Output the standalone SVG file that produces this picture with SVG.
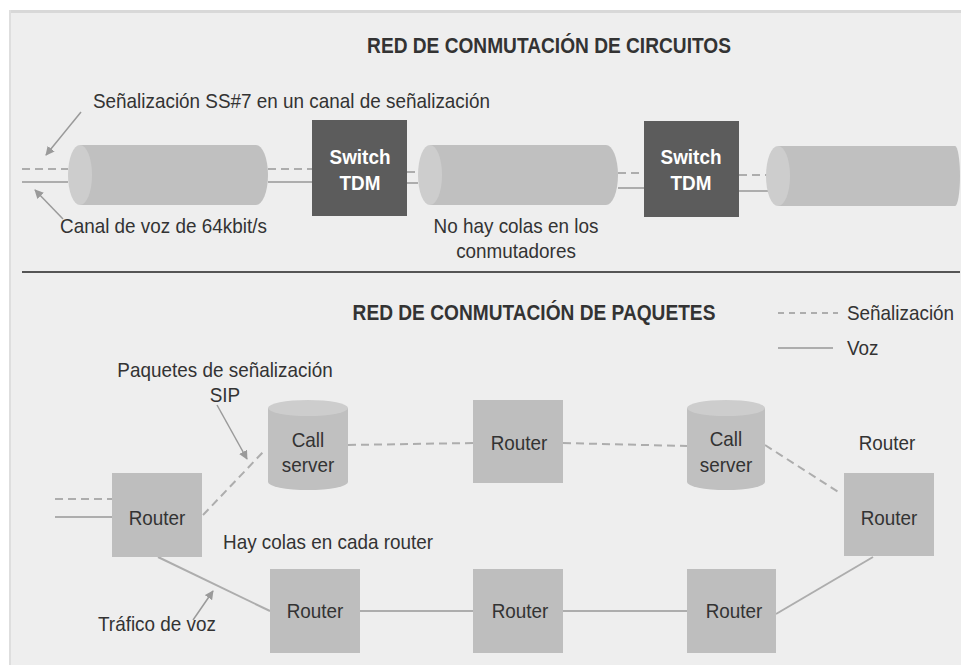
<svg xmlns="http://www.w3.org/2000/svg" width="961" height="665" viewBox="0 0 961 665">
<defs>
<style>
text{font-family:"Liberation Sans",Arial,sans-serif;font-size:21px;fill:#333}
.title{font-weight:bold;font-size:22px}
.sw{font-weight:bold;fill:#fff}
.mid{text-anchor:middle}
.dash{stroke:#adadad;stroke-width:2;stroke-dasharray:8,5;fill:none}
.solid{stroke:#adadad;stroke-width:2;fill:none}
.ptr{stroke:#9a9a9a;stroke-width:1.5;fill:none}
.box{fill:#bebebe}
.swbox{fill:#5c5c5c}
.cylbody{fill:#c0c0c0}
.cylface{fill:#cdcdcd}
</style>
<marker id="ah" viewBox="0 0 10 10" refX="9" refY="5" markerWidth="9" markerHeight="9" markerUnits="userSpaceOnUse" orient="auto"><path d="M0,0 L10,5 L0,10 z" fill="#9a9a9a"/></marker>
</defs>
<rect x="0" y="0" width="961" height="665" fill="#ffffff"/>
<rect x="9" y="10" width="952" height="655" fill="#eeeeee"/>
<rect x="9" y="10" width="952" height="3" fill="#d8d8d8"/>
<rect x="9" y="10" width="2" height="655" fill="#dedede"/>

<g id="connectors">
<line class="dash" x1="22" y1="169" x2="68" y2="169"/>
<line class="solid" x1="22" y1="182" x2="68" y2="182"/>
<line class="dash" x1="268" y1="169" x2="312" y2="169"/>
<line class="solid" x1="268" y1="182" x2="312" y2="182"/>
<line class="dash" x1="407" y1="172" x2="418" y2="172"/>
<line class="solid" x1="407" y1="183" x2="418" y2="183"/>
<line class="dash" x1="618" y1="173" x2="644" y2="173"/>
<line class="solid" x1="618" y1="188" x2="644" y2="188"/>
<line class="dash" x1="739" y1="175" x2="768" y2="175"/>
<line class="solid" x1="739" y1="191" x2="768" y2="191"/>
<line class="dash" x1="55" y1="499" x2="112" y2="499"/>
<line class="solid" x1="55" y1="517" x2="112" y2="517"/>
<line class="dash" x1="203" y1="515" x2="265" y2="450"/>
<line class="dash" x1="348" y1="445" x2="473" y2="443"/>
<line class="dash" x1="563" y1="443" x2="687" y2="446"/>
<line class="dash" x1="765" y1="445" x2="840" y2="493"/>
<line class="solid" x1="158" y1="557" x2="270" y2="611"/>
<line class="solid" x1="360" y1="611" x2="473" y2="611"/>
<line class="solid" x1="563" y1="611" x2="687" y2="611"/>
<line class="solid" x1="776" y1="614" x2="873" y2="557"/>
<line class="ptr" x1="81" y1="112" x2="46" y2="155" marker-end="url(#ah)"/>
<line class="ptr" x1="63" y1="219" x2="35" y2="190" marker-end="url(#ah)"/>
<line class="ptr" x1="217" y1="405" x2="247" y2="459" marker-end="url(#ah)"/>
<line class="ptr" x1="193" y1="620" x2="213" y2="591" marker-end="url(#ah)"/>
</g>

<g id="circuit-title"><text class="title mid" transform="matrix(0.87,0,0,1,549,53)">RED DE CONMUTACIÓN DE CIRCUITOS</text></g>
<g id="label-ss7"><text transform="matrix(0.9,0,0,1,93,108)">Señalización SS#7 en un canal de señalización</text></g>
<g id="label-canal"><text transform="matrix(0.9,0,0,1,60,233)">Canal de voz de 64kbit/s</text></g>
<g id="label-nohay"><text class="mid" transform="matrix(0.9,0,0,1,516,233)">No hay colas en los</text><text class="mid" transform="matrix(0.9,0,0,1,516,258)">conmutadores</text></g>

<g id="cyl1">
<path class="cylbody" d="M80,145 H256 A12,30 0 0 1 256,205 H80 Z"/>
<ellipse class="cylface" cx="80" cy="175" rx="12" ry="30"/>
</g>
<g id="switch1">
<rect class="swbox" x="312" y="120" width="95" height="96"/>
<text class="sw mid" transform="matrix(0.9,0,0,1,360,164)">Switch</text>
<text class="sw mid" transform="matrix(0.9,0,0,1,360,190)">TDM</text>
</g>
<g id="cyl2">
<path class="cylbody" d="M430,145 H606 A12,30 0 0 1 606,205 H430 Z"/>
<ellipse class="cylface" cx="430" cy="175" rx="12" ry="30"/>
</g>
<g id="switch2">
<rect class="swbox" x="644" y="121" width="95" height="96"/>
<text class="sw mid" transform="matrix(0.9,0,0,1,691,164)">Switch</text>
<text class="sw mid" transform="matrix(0.9,0,0,1,691,190)">TDM</text>
</g>
<g id="cyl3">
<path class="cylbody" d="M778,146 H955 A5,30 0 0 1 955,206 H778 Z"/>
<ellipse class="cylface" cx="778" cy="176" rx="12" ry="30"/>
</g>

<line x1="22" y1="272" x2="960" y2="272" stroke="#555" stroke-width="2"/>

<g id="packet-title"><text class="title mid" transform="matrix(0.87,0,0,1,534,320)">RED DE CONMUTACIÓN DE PAQUETES</text></g>
<g id="legend">
<line class="dash" x1="778" y1="313" x2="838" y2="313" style="stroke-dasharray:6,5"/>
<text transform="matrix(0.9,0,0,1,847,320)">Señalización</text>
<line class="solid" x1="778" y1="348" x2="833" y2="348"/>
<text transform="matrix(0.9,0,0,1,847,355)">Voz</text>
</g>
<g id="label-sip"><text class="mid" transform="matrix(0.9,0,0,1,225,377)">Paquetes de señalización</text><text class="mid" transform="matrix(0.9,0,0,1,225,402)">SIP</text></g>
<g id="label-hay"><text transform="matrix(0.9,0,0,1,223,549)">Hay colas en cada router</text></g>
<g id="label-trafico"><text transform="matrix(0.9,0,0,1,98,631)">Tráfico de voz</text></g>
<g id="label-router-r"><text class="mid" transform="matrix(0.9,0,0,1,887,450)">Router</text></g>

<g id="callserver1">
<path class="cylbody" d="M268,408 V482 A40,8 0 0 0 348,482 V408 Z"/>
<ellipse class="cylface" cx="308" cy="408" rx="40" ry="8"/>
<text class="mid" transform="matrix(0.9,0,0,1,308,447)">Call</text>
<text class="mid" transform="matrix(0.9,0,0,1,308,472)">server</text>
</g>
<g id="callserver2">
<path class="cylbody" d="M687,408 V482 A39,8 0 0 0 765,482 V408 Z"/>
<ellipse class="cylface" cx="726" cy="408" rx="39" ry="8"/>
<text class="mid" transform="matrix(0.9,0,0,1,726,446)">Call</text>
<text class="mid" transform="matrix(0.9,0,0,1,726,472)">server</text>
</g>
<g id="router-l"><rect class="box" x="112" y="473" width="90" height="84"/><text class="mid" transform="matrix(0.9,0,0,1,157,525)">Router</text></g>
<g id="router-tm"><rect class="box" x="473" y="400" width="90" height="83"/><text class="mid" transform="matrix(0.9,0,0,1,519,450)">Router</text></g>
<g id="router-r"><rect class="box" x="844" y="473" width="90" height="83"/><text class="mid" transform="matrix(0.9,0,0,1,889,525)">Router</text></g>
<g id="router-bl"><rect class="box" x="270" y="569" width="90" height="84"/><text class="mid" transform="matrix(0.9,0,0,1,315,618)">Router</text></g>
<g id="router-bm"><rect class="box" x="473" y="569" width="90" height="84"/><text class="mid" transform="matrix(0.9,0,0,1,520,618)">Router</text></g>
<g id="router-br"><rect class="box" x="687" y="569" width="89" height="84"/><text class="mid" transform="matrix(0.9,0,0,1,734,618)">Router</text></g>
</svg>
